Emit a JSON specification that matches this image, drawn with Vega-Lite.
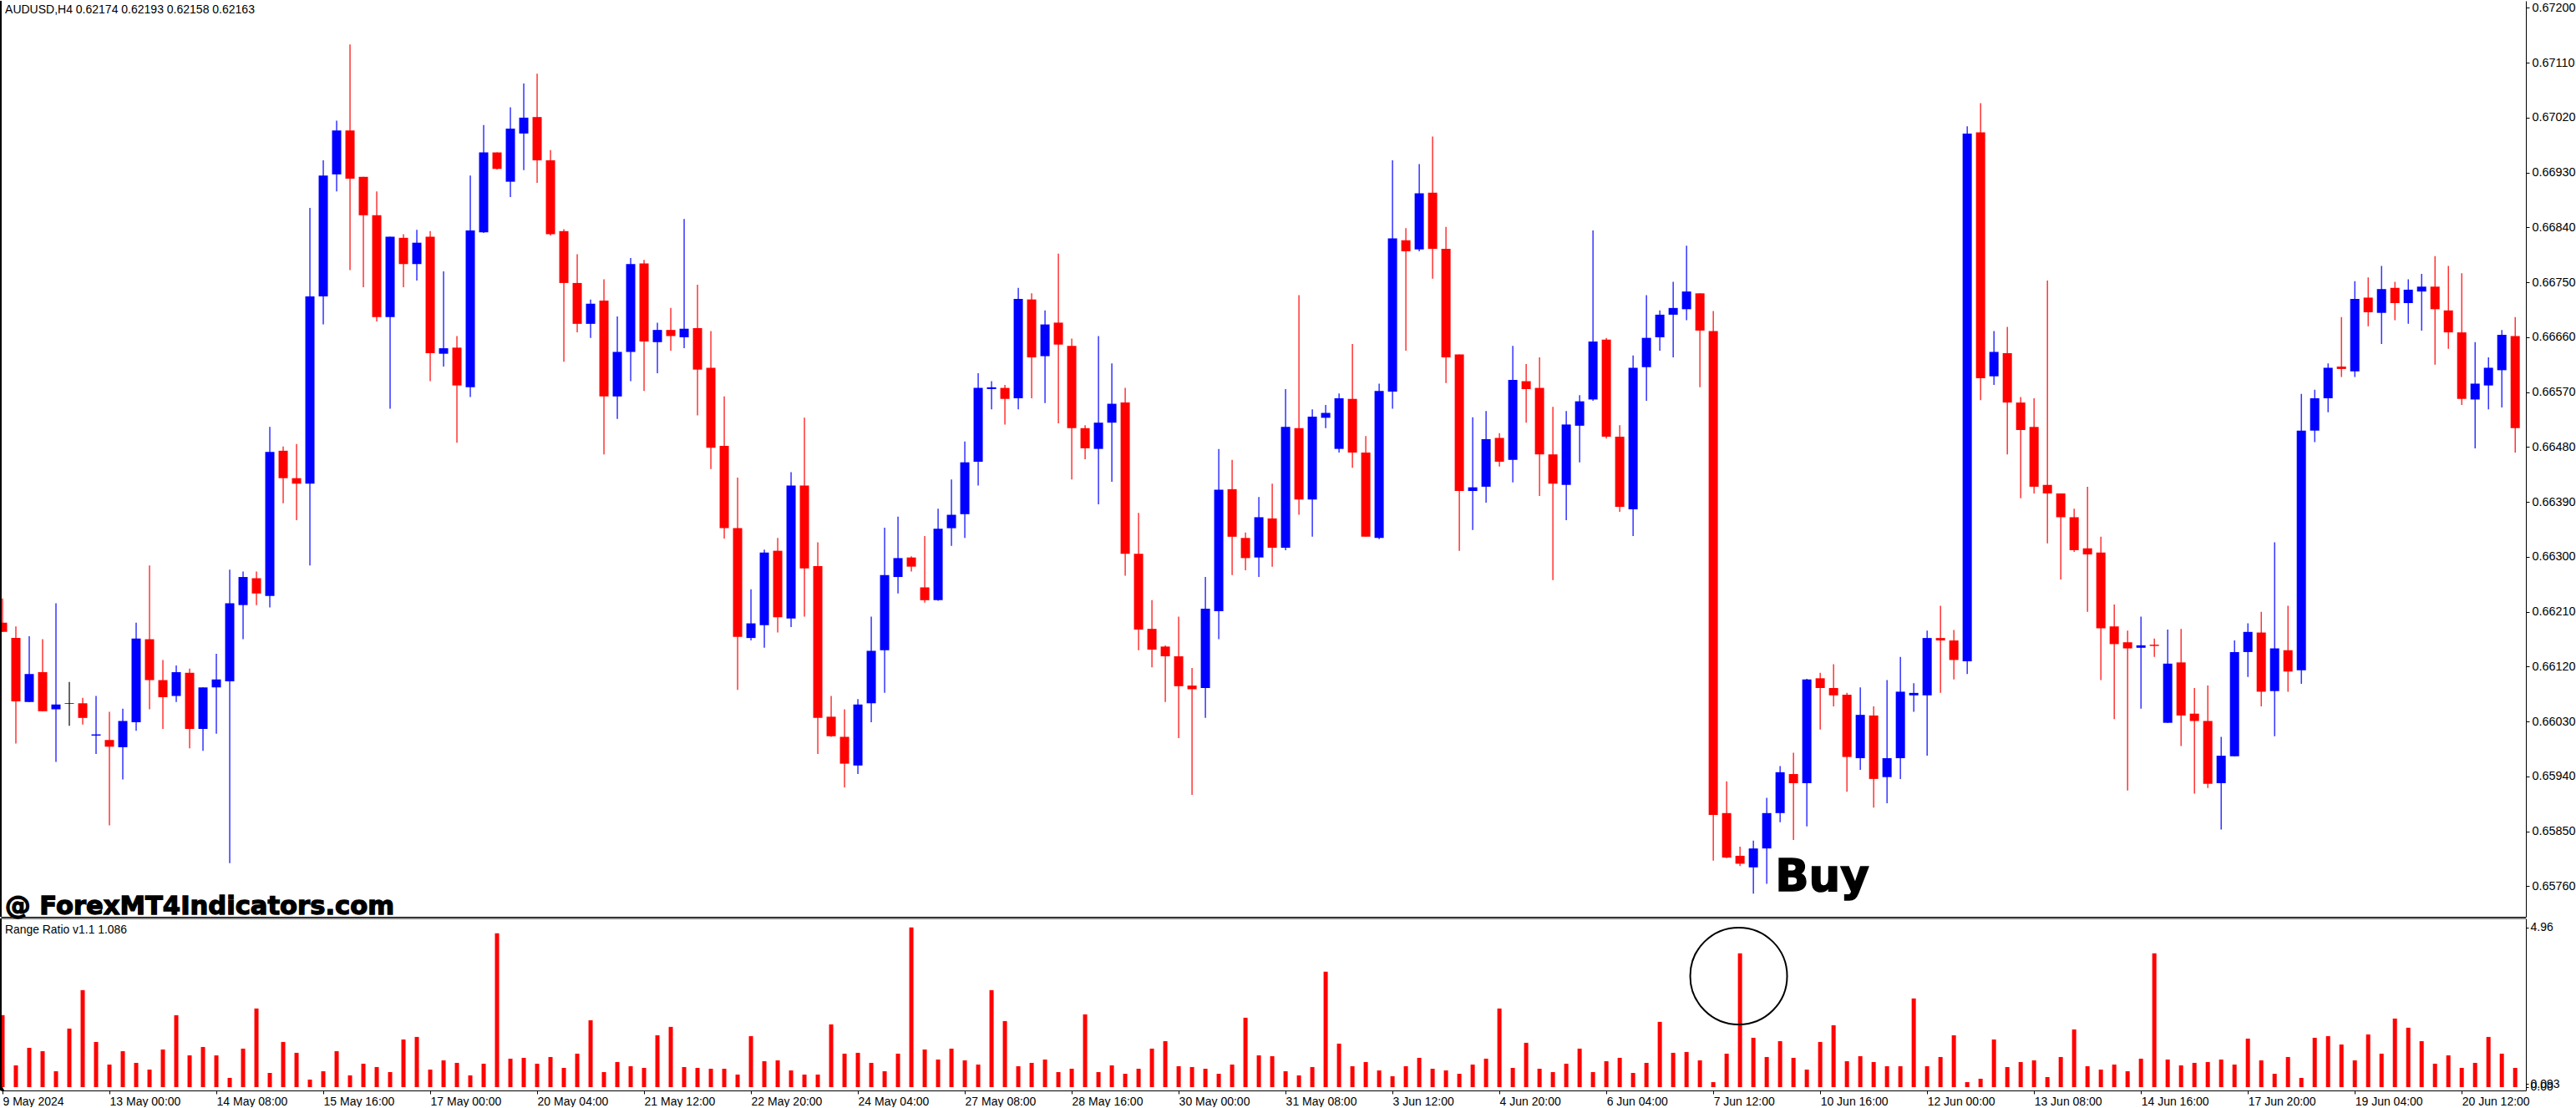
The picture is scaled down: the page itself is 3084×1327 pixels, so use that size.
{"$schema":"https://vega.github.io/schema/vega-lite/v6.json","padding":0,"spacing":2,"bounds":"flush","background":"white","config":{"view":{"stroke":null},"axis":{"grid":false,"title":null,"domainColor":"#000","tickColor":"#000","labelColor":"#000","labelFont":"Liberation Sans"}},
"datasets":{"bars":[
{"i":0,"d":"down","h":0.66232,"o":0.66192,"c":0.66177,"l":0.66177,"r":2.233},
{"i":1,"d":"down","h":0.66186,"o":0.66167,"c":0.66063,"l":0.65994,"r":0.675},
{"i":2,"d":"up","h":0.6617,"o":0.66062,"c":0.66108,"l":0.66062,"r":1.22},
{"i":3,"d":"down","h":0.66165,"o":0.66111,"c":0.66047,"l":0.66047,"r":1.117},
{"i":4,"d":"up","h":0.66224,"o":0.6605,"c":0.66058,"l":0.65964,"r":0.493},
{"i":5,"d":"flat","h":0.66095,"o":0.6606,"c":0.66059,"l":0.66023,"r":1.818},
{"i":6,"d":"down","h":0.66069,"o":0.6606,"c":0.66036,"l":0.66025,"r":3.012},
{"i":7,"d":"up","h":0.66072,"o":0.66007,"c":0.66009,"l":0.65977,"r":1.402},
{"i":8,"d":"down","h":0.66046,"o":0.66,"c":0.65989,"l":0.6586,"r":0.701},
{"i":9,"d":"up","h":0.66051,"o":0.65988,"c":0.66031,"l":0.65935,"r":1.117},
{"i":10,"d":"up","h":0.66192,"o":0.66029,"c":0.66166,"l":0.66015,"r":0.753},
{"i":11,"d":"down","h":0.66286,"o":0.66165,"c":0.66098,"l":0.6605,"r":0.545},
{"i":12,"d":"down","h":0.66131,"o":0.66098,"c":0.6607,"l":0.66018,"r":1.169},
{"i":13,"d":"up","h":0.66122,"o":0.66072,"c":0.66111,"l":0.66062,"r":2.233},
{"i":14,"d":"down","h":0.66117,"o":0.6611,"c":0.66018,"l":0.65986,"r":0.987},
{"i":15,"d":"up","h":0.66086,"o":0.66018,"c":0.66086,"l":0.65982,"r":1.246},
{"i":16,"d":"up","h":0.66141,"o":0.66086,"c":0.66099,"l":0.6601,"r":0.987},
{"i":17,"d":"up","h":0.66279,"o":0.66096,"c":0.66224,"l":0.65798,"r":0.286},
{"i":18,"d":"up","h":0.66276,"o":0.66221,"c":0.66267,"l":0.66165,"r":1.195},
{"i":19,"d":"down","h":0.66276,"o":0.66265,"c":0.6624,"l":0.66221,"r":2.441},
{"i":20,"d":"up","h":0.66513,"o":0.66236,"c":0.66472,"l":0.66217,"r":0.441},
{"i":21,"d":"down","h":0.66481,"o":0.66474,"c":0.66429,"l":0.66388,"r":1.402},
{"i":22,"d":"down","h":0.66485,"o":0.66429,"c":0.6642,"l":0.6636,"r":1.065},
{"i":23,"d":"up","h":0.66872,"o":0.6642,"c":0.66727,"l":0.66286,"r":0.234},
{"i":24,"d":"up","h":0.6695,"o":0.66727,"c":0.66925,"l":0.66681,"r":0.493},
{"i":25,"d":"up","h":0.67015,"o":0.66927,"c":0.66999,"l":0.66899,"r":1.117},
{"i":26,"d":"down","h":0.6714,"o":0.66999,"c":0.6692,"l":0.6677,"r":0.364},
{"i":27,"d":"down","h":0.66923,"o":0.66923,"c":0.6686,"l":0.66742,"r":0.727},
{"i":28,"d":"down","h":0.66899,"o":0.6686,"c":0.66693,"l":0.66686,"r":0.623},
{"i":29,"d":"up","h":0.66825,"o":0.66693,"c":0.66825,"l":0.66543,"r":0.467},
{"i":30,"d":"down","h":0.66829,"o":0.66823,"c":0.6678,"l":0.66742,"r":1.48},
{"i":31,"d":"up","h":0.66836,"o":0.6678,"c":0.66815,"l":0.66753,"r":1.558},
{"i":32,"d":"down","h":0.66834,"o":0.66825,"c":0.66634,"l":0.66588,"r":0.545},
{"i":33,"d":"up","h":0.66768,"o":0.66633,"c":0.66642,"l":0.66612,"r":0.831},
{"i":34,"d":"down","h":0.66662,"o":0.66643,"c":0.66581,"l":0.66487,"r":0.753},
{"i":35,"d":"up","h":0.66925,"o":0.66578,"c":0.66835,"l":0.66562,"r":0.364},
{"i":36,"d":"up","h":0.67008,"o":0.66832,"c":0.66963,"l":0.66831,"r":0.727},
{"i":37,"d":"down","h":0.66963,"o":0.66963,"c":0.66936,"l":0.66935,"r":4.778},
{"i":38,"d":"up","h":0.67037,"o":0.66915,"c":0.67002,"l":0.6689,"r":0.883},
{"i":39,"d":"up","h":0.67076,"o":0.66994,"c":0.6702,"l":0.66934,"r":0.909},
{"i":40,"d":"down","h":0.67092,"o":0.67021,"c":0.6695,"l":0.66913,"r":0.727},
{"i":41,"d":"down","h":0.66967,"o":0.6695,"c":0.66829,"l":0.66827,"r":0.935},
{"i":42,"d":"down","h":0.66837,"o":0.66834,"c":0.66749,"l":0.6662,"r":0.597},
{"i":43,"d":"down","h":0.66796,"o":0.66749,"c":0.66682,"l":0.66668,"r":1.039},
{"i":44,"d":"up","h":0.66722,"o":0.66682,"c":0.66715,"l":0.66659,"r":2.077},
{"i":45,"d":"down","h":0.66755,"o":0.6672,"c":0.66563,"l":0.66468,"r":0.467},
{"i":46,"d":"up","h":0.66694,"o":0.66563,"c":0.66636,"l":0.66526,"r":0.779},
{"i":47,"d":"up","h":0.6679,"o":0.66636,"c":0.6678,"l":0.66588,"r":0.649},
{"i":48,"d":"down","h":0.66787,"o":0.66781,"c":0.66653,"l":0.66572,"r":0.597},
{"i":49,"d":"up","h":0.66684,"o":0.66652,"c":0.66672,"l":0.66601,"r":1.61},
{"i":50,"d":"down","h":0.66708,"o":0.66672,"c":0.66662,"l":0.66638,"r":1.87},
{"i":51,"d":"up","h":0.66854,"o":0.6666,"c":0.66674,"l":0.66642,"r":0.623},
{"i":52,"d":"down","h":0.66746,"o":0.66675,"c":0.66607,"l":0.66532,"r":0.597},
{"i":53,"d":"down","h":0.6667,"o":0.6661,"c":0.66479,"l":0.66444,"r":0.571},
{"i":54,"d":"down","h":0.66563,"o":0.66482,"c":0.66347,"l":0.6633,"r":0.571},
{"i":55,"d":"down","h":0.6643,"o":0.66347,"c":0.66169,"l":0.66082,"r":0.39},
{"i":56,"d":"up","h":0.66247,"o":0.66167,"c":0.66191,"l":0.66163,"r":1.584},
{"i":57,"d":"up","h":0.66312,"o":0.66188,"c":0.66307,"l":0.66151,"r":0.805},
{"i":58,"d":"down","h":0.66331,"o":0.6631,"c":0.66201,"l":0.66176,"r":0.831},
{"i":59,"d":"up","h":0.66439,"o":0.66199,"c":0.66417,"l":0.66185,"r":0.519},
{"i":60,"d":"down","h":0.66528,"o":0.66417,"c":0.66281,"l":0.66202,"r":0.39},
{"i":61,"d":"down","h":0.66324,"o":0.66285,"c":0.66036,"l":0.65977,"r":0.39},
{"i":62,"d":"down","h":0.66072,"o":0.66038,"c":0.66006,"l":0.66005,"r":1.948},
{"i":63,"d":"down","h":0.6605,"o":0.66005,"c":0.65961,"l":0.65922,"r":1.039},
{"i":64,"d":"up","h":0.66067,"o":0.65958,"c":0.66058,"l":0.65944,"r":1.065},
{"i":65,"d":"up","h":0.66202,"o":0.6606,"c":0.66146,"l":0.66029,"r":0.753},
{"i":66,"d":"up","h":0.66348,"o":0.66147,"c":0.6627,"l":0.66077,"r":0.493},
{"i":67,"d":"up","h":0.66366,"o":0.66267,"c":0.66298,"l":0.6624,"r":1.039},
{"i":68,"d":"down","h":0.66301,"o":0.66299,"c":0.66284,"l":0.66276,"r":4.96},
{"i":69,"d":"down","h":0.66334,"o":0.6625,"c":0.66229,"l":0.66225,"r":1.169},
{"i":70,"d":"up","h":0.66379,"o":0.66229,"c":0.66346,"l":0.66228,"r":0.857},
{"i":71,"d":"up","h":0.66427,"o":0.66347,"c":0.66369,"l":0.66318,"r":1.195},
{"i":72,"d":"up","h":0.66489,"o":0.6637,"c":0.66455,"l":0.66331,"r":0.831},
{"i":73,"d":"up","h":0.66601,"o":0.66456,"c":0.66577,"l":0.66417,"r":0.701},
{"i":74,"d":"up","h":0.66588,"o":0.66575,"c":0.66578,"l":0.66542,"r":3.012},
{"i":75,"d":"down","h":0.66582,"o":0.66577,"c":0.66559,"l":0.66517,"r":2.051},
{"i":76,"d":"up","h":0.66741,"o":0.6656,"c":0.66723,"l":0.66542,"r":0.649},
{"i":77,"d":"down","h":0.66732,"o":0.66722,"c":0.66627,"l":0.6656,"r":0.753},
{"i":78,"d":"up","h":0.66704,"o":0.66629,"c":0.66681,"l":0.66552,"r":0.857},
{"i":79,"d":"down","h":0.66797,"o":0.66684,"c":0.66648,"l":0.66519,"r":0.467},
{"i":80,"d":"down","h":0.66658,"o":0.66646,"c":0.66511,"l":0.66427,"r":0.571},
{"i":81,"d":"down","h":0.66516,"o":0.66511,"c":0.66478,"l":0.6646,"r":2.259},
{"i":82,"d":"up","h":0.66662,"o":0.66477,"c":0.6652,"l":0.66386,"r":0.467},
{"i":83,"d":"up","h":0.66617,"o":0.6652,"c":0.66551,"l":0.66423,"r":0.675},
{"i":84,"d":"down","h":0.66577,"o":0.66553,"c":0.66305,"l":0.66269,"r":0.415},
{"i":85,"d":"down","h":0.66372,"o":0.66305,"c":0.66181,"l":0.66147,"r":0.571},
{"i":86,"d":"down","h":0.66229,"o":0.66182,"c":0.66148,"l":0.66119,"r":1.195},
{"i":87,"d":"down","h":0.66155,"o":0.66153,"c":0.66137,"l":0.66062,"r":1.428},
{"i":88,"d":"down","h":0.66202,"o":0.66137,"c":0.66088,"l":0.66003,"r":0.649},
{"i":89,"d":"down","h":0.66118,"o":0.66089,"c":0.66083,"l":0.6591,"r":0.623},
{"i":90,"d":"up","h":0.66267,"o":0.66085,"c":0.66215,"l":0.66036,"r":0.571},
{"i":91,"d":"up","h":0.66477,"o":0.66211,"c":0.6641,"l":0.66165,"r":0.415},
{"i":92,"d":"down","h":0.66459,"o":0.66411,"c":0.66333,"l":0.6627,"r":0.701},
{"i":93,"d":"down","h":0.6634,"o":0.66331,"c":0.66298,"l":0.66278,"r":2.155},
{"i":94,"d":"up","h":0.66398,"o":0.66299,"c":0.66365,"l":0.66267,"r":0.987},
{"i":95,"d":"down","h":0.6642,"o":0.66363,"c":0.66315,"l":0.66284,"r":0.961},
{"i":96,"d":"up","h":0.66575,"o":0.66315,"c":0.66513,"l":0.66311,"r":0.493},
{"i":97,"d":"down","h":0.66729,"o":0.66511,"c":0.66394,"l":0.66369,"r":0.364},
{"i":98,"d":"up","h":0.66542,"o":0.66394,"c":0.6653,"l":0.66333,"r":0.623},
{"i":99,"d":"up","h":0.66549,"o":0.66528,"c":0.66536,"l":0.66511,"r":3.584},
{"i":100,"d":"up","h":0.66568,"o":0.66477,"c":0.6656,"l":0.66471,"r":1.35},
{"i":101,"d":"down","h":0.66649,"o":0.66559,"c":0.66471,"l":0.66446,"r":0.649},
{"i":102,"d":"down","h":0.66498,"o":0.66471,"c":0.66333,"l":0.66333,"r":0.779},
{"i":103,"d":"up","h":0.66584,"o":0.66331,"c":0.66572,"l":0.66329,"r":0.519},
{"i":104,"d":"up","h":0.6695,"o":0.66571,"c":0.66822,"l":0.66543,"r":0.338},
{"i":105,"d":"down","h":0.66839,"o":0.66819,"c":0.66801,"l":0.66638,"r":0.649},
{"i":106,"d":"up","h":0.66944,"o":0.66804,"c":0.66896,"l":0.66801,"r":0.909},
{"i":107,"d":"down","h":0.66989,"o":0.66897,"c":0.66805,"l":0.66756,"r":0.571},
{"i":108,"d":"down","h":0.66841,"o":0.66805,"c":0.66627,"l":0.66585,"r":0.519},
{"i":109,"d":"down","h":0.66632,"o":0.66632,"c":0.66408,"l":0.6631,"r":0.415},
{"i":110,"d":"up","h":0.66529,"o":0.66408,"c":0.66414,"l":0.66344,"r":0.701},
{"i":111,"d":"up","h":0.66539,"o":0.66415,"c":0.66493,"l":0.66389,"r":0.883},
{"i":112,"d":"down","h":0.66503,"o":0.66495,"c":0.66456,"l":0.66448,"r":2.441},
{"i":113,"d":"up","h":0.66646,"o":0.66459,"c":0.6659,"l":0.66422,"r":0.597},
{"i":114,"d":"down","h":0.66616,"o":0.66588,"c":0.66575,"l":0.6652,"r":1.376},
{"i":115,"d":"down","h":0.66627,"o":0.66577,"c":0.66468,"l":0.664,"r":0.571},
{"i":116,"d":"down","h":0.66546,"o":0.66468,"c":0.6642,"l":0.66262,"r":0.467},
{"i":117,"d":"up","h":0.66539,"o":0.66418,"c":0.66517,"l":0.6636,"r":0.727},
{"i":118,"d":"up","h":0.66565,"o":0.66515,"c":0.66555,"l":0.66455,"r":1.195},
{"i":119,"d":"up","h":0.66835,"o":0.66558,"c":0.66653,"l":0.66556,"r":0.467},
{"i":120,"d":"down","h":0.66659,"o":0.66656,"c":0.66497,"l":0.66494,"r":0.805},
{"i":121,"d":"down","h":0.66516,"o":0.66497,"c":0.66382,"l":0.66374,"r":0.909},
{"i":122,"d":"up","h":0.6663,"o":0.66378,"c":0.6661,"l":0.66334,"r":0.441},
{"i":123,"d":"up","h":0.66729,"o":0.66611,"c":0.66659,"l":0.66556,"r":0.753},
{"i":124,"d":"up","h":0.66704,"o":0.6666,"c":0.66697,"l":0.66638,"r":2.026},
{"i":125,"d":"up","h":0.66751,"o":0.66697,"c":0.66708,"l":0.66627,"r":1.065},
{"i":126,"d":"up","h":0.6681,"o":0.66706,"c":0.66735,"l":0.66688,"r":1.091},
{"i":127,"d":"down","h":0.66732,"o":0.66732,"c":0.66671,"l":0.66578,"r":0.831},
{"i":128,"d":"down","h":0.66703,"o":0.6667,"c":0.65877,"l":0.65802,"r":0.156},
{"i":129,"d":"down","h":0.65932,"o":0.6588,"c":0.65807,"l":0.65806,"r":1.039},
{"i":130,"d":"down","h":0.65825,"o":0.6581,"c":0.65797,"l":0.65793,"r":4.155},
{"i":131,"d":"up","h":0.65835,"o":0.65791,"c":0.65822,"l":0.65748,"r":1.532},
{"i":132,"d":"up","h":0.65905,"o":0.65822,"c":0.6588,"l":0.65764,"r":0.935},
{"i":133,"d":"up","h":0.65957,"o":0.6588,"c":0.65947,"l":0.65865,"r":1.428},
{"i":134,"d":"down","h":0.65979,"o":0.65944,"c":0.65929,"l":0.65836,"r":0.909},
{"i":135,"d":"up","h":0.661,"o":0.65929,"c":0.66099,"l":0.65858,"r":0.545},
{"i":136,"d":"down","h":0.6611,"o":0.66101,"c":0.66085,"l":0.66017,"r":1.402},
{"i":137,"d":"down","h":0.66124,"o":0.66085,"c":0.66073,"l":0.66055,"r":1.922},
{"i":138,"d":"down","h":0.66077,"o":0.66074,"c":0.65972,"l":0.65915,"r":0.805},
{"i":139,"d":"up","h":0.66086,"o":0.6597,"c":0.66041,"l":0.65951,"r":0.961},
{"i":140,"d":"down","h":0.66055,"o":0.6604,"c":0.65936,"l":0.65889,"r":0.779},
{"i":141,"d":"up","h":0.66098,"o":0.65939,"c":0.6597,"l":0.65896,"r":0.649},
{"i":142,"d":"up","h":0.66136,"o":0.6597,"c":0.66079,"l":0.65936,"r":0.649},
{"i":143,"d":"up","h":0.66093,"o":0.66073,"c":0.66077,"l":0.66046,"r":2.753},
{"i":144,"d":"up","h":0.66179,"o":0.66073,"c":0.66167,"l":0.65974,"r":0.649},
{"i":145,"d":"down","h":0.6622,"o":0.66167,"c":0.66163,"l":0.66077,"r":0.935},
{"i":146,"d":"down","h":0.6618,"o":0.66163,"c":0.66131,"l":0.66099,"r":1.61},
{"i":147,"d":"up","h":0.67006,"o":0.66129,"c":0.66994,"l":0.66108,"r":0.156},
{"i":148,"d":"down","h":0.67044,"o":0.66996,"c":0.66593,"l":0.66557,"r":0.26},
{"i":149,"d":"up","h":0.6667,"o":0.66596,"c":0.66636,"l":0.66582,"r":1.48},
{"i":150,"d":"down","h":0.66677,"o":0.66634,"c":0.66553,"l":0.66468,"r":0.623},
{"i":151,"d":"down","h":0.66562,"o":0.66553,"c":0.66508,"l":0.66396,"r":0.779},
{"i":152,"d":"down","h":0.6656,"o":0.66513,"c":0.66415,"l":0.66404,"r":0.831},
{"i":153,"d":"down","h":0.66753,"o":0.66418,"c":0.66404,"l":0.66322,"r":0.312},
{"i":154,"d":"down","h":0.66404,"o":0.66404,"c":0.66365,"l":0.66263,"r":0.935},
{"i":155,"d":"down","h":0.66379,"o":0.66365,"c":0.66311,"l":0.66308,"r":1.792},
{"i":156,"d":"down","h":0.66415,"o":0.66314,"c":0.66304,"l":0.6621,"r":0.649},
{"i":157,"d":"down","h":0.66333,"o":0.66307,"c":0.66183,"l":0.66098,"r":0.545},
{"i":158,"d":"down","h":0.66222,"o":0.66186,"c":0.66157,"l":0.66034,"r":0.701},
{"i":159,"d":"down","h":0.66179,"o":0.6616,"c":0.6615,"l":0.65917,"r":0.493},
{"i":160,"d":"up","h":0.66202,"o":0.66151,"c":0.66155,"l":0.66051,"r":0.883},
{"i":161,"d":"down","h":0.66166,"o":0.66156,"c":0.66154,"l":0.66136,"r":4.155},
{"i":162,"d":"up","h":0.66181,"o":0.66028,"c":0.66125,"l":0.66028,"r":0.857},
{"i":163,"d":"down","h":0.66182,"o":0.66127,"c":0.6604,"l":0.6599,"r":0.675},
{"i":164,"d":"down","h":0.66085,"o":0.66043,"c":0.66031,"l":0.65912,"r":0.753},
{"i":165,"d":"down","h":0.66089,"o":0.66031,"c":0.65928,"l":0.65921,"r":0.779},
{"i":166,"d":"up","h":0.66005,"o":0.65929,"c":0.65974,"l":0.65853,"r":0.857},
{"i":167,"d":"up","h":0.66163,"o":0.65973,"c":0.66144,"l":0.65973,"r":0.701},
{"i":168,"d":"up","h":0.66191,"o":0.66144,"c":0.66177,"l":0.66103,"r":1.506},
{"i":169,"d":"down","h":0.6621,"o":0.66176,"c":0.66079,"l":0.66055,"r":0.831},
{"i":170,"d":"up","h":0.66324,"o":0.6608,"c":0.6615,"l":0.66006,"r":0.415},
{"i":171,"d":"down","h":0.6622,"o":0.66147,"c":0.66112,"l":0.66079,"r":0.935},
{"i":172,"d":"up","h":0.66567,"o":0.66114,"c":0.66507,"l":0.66092,"r":0.286},
{"i":173,"d":"up","h":0.66574,"o":0.66507,"c":0.6656,"l":0.66488,"r":1.532},
{"i":174,"d":"up","h":0.66617,"o":0.6656,"c":0.6661,"l":0.66537,"r":1.584},
{"i":175,"d":"down","h":0.66693,"o":0.66612,"c":0.66608,"l":0.66595,"r":1.324},
{"i":176,"d":"up","h":0.66752,"o":0.66604,"c":0.66723,"l":0.66595,"r":0.831},
{"i":177,"d":"down","h":0.66758,"o":0.66725,"c":0.66701,"l":0.66678,"r":1.636},
{"i":178,"d":"up","h":0.66777,"o":0.667,"c":0.66739,"l":0.66649,"r":1.039},
{"i":179,"d":"down","h":0.66751,"o":0.66741,"c":0.66716,"l":0.66688,"r":2.129},
{"i":180,"d":"up","h":0.66755,"o":0.66716,"c":0.66738,"l":0.66682,"r":1.844},
{"i":181,"d":"up","h":0.66764,"o":0.66735,"c":0.66743,"l":0.66671,"r":1.428},
{"i":182,"d":"down","h":0.66793,"o":0.66743,"c":0.66706,"l":0.66615,"r":0.727},
{"i":183,"d":"down","h":0.66777,"o":0.66704,"c":0.66668,"l":0.66641,"r":0.987},
{"i":184,"d":"down","h":0.66765,"o":0.66668,"c":0.66559,"l":0.66549,"r":0.597},
{"i":185,"d":"up","h":0.66652,"o":0.66558,"c":0.66584,"l":0.66478,"r":0.753},
{"i":186,"d":"up","h":0.66627,"o":0.66581,"c":0.6661,"l":0.66542,"r":1.558},
{"i":187,"d":"up","h":0.66672,"o":0.66606,"c":0.66664,"l":0.66545,"r":1.039},
{"i":188,"d":"down","h":0.66693,"o":0.66662,"c":0.66511,"l":0.66471,"r":0.597}
]},
"vconcat":[
{"width":3023,"height":1097,"data":{"name":"bars"},
"encoding":{"x":{"field":"i","type":"quantitative","scale":{"domain":[-0.125,188.8],"nice":false,"zero":false,"padding":0},"axis":{"labels":false,"ticks":false,"domain":true}}},
"layer":[
{"mark":{"type":"rule","strokeWidth":1.2,"clip":true},"encoding":{"y":{"field":"l","type":"quantitative","scale":{"domain":[0.6571,0.672115],"nice":false,"zero":false},"axis":{"orient":"right","values":[0.672,0.6711,0.6702,0.6693,0.6684,0.6675,0.6666,0.6657,0.6648,0.6639,0.663,0.6621,0.6612,0.6603,0.6594,0.6585,0.6576],"format":".5f","tickSize":4,"labelPadding":3,"labelFontSize":14.4,"labelOverlap":false,"labelBound":false,"labelFlush":false}},"y2":{"field":"h"},"color":{"field":"d","type":"nominal","scale":{"domain":["up","down","flat"],"range":["#0000ff","#ff0000","#000000"]},"legend":null}}},
{"mark":{"type":"bar","size":11,"clip":true},"encoding":{"y":{"field":"o","type":"quantitative"},"y2":{"field":"c"},"color":{"field":"d","type":"nominal","legend":null}}},
{"data":{"values":[{"i":-0.125}]},"mark":{"type":"rule","color":"#000","strokeWidth":2}},
{"data":{"values":[{"i":0.19,"p":0.67196,"t":"AUDUSD,H4  0.62174 0.62193 0.62158 0.62163"}]},"mark":{"type":"text","align":"left","baseline":"middle","font":"Liberation Sans","fontSize":14,"color":"#000"},"encoding":{"y":{"field":"p","type":"quantitative"},"text":{"field":"t"}}},
{"data":{"values":[{"i":0.19,"p":0.65714,"t":"@ ForexMT4Indicators.com"}]},"mark":{"type":"text","align":"left","baseline":"alphabetic","font":"DejaVu Sans","fontWeight":"bold","fontSize":30.6,"color":"#000","stroke":"#000","strokeWidth":1.3},"encoding":{"y":{"field":"p","type":"quantitative"},"text":{"field":"t"}}},
{"data":{"values":[{"i":132.63,"p":0.65752,"t":"Buy"}]},"mark":{"type":"text","align":"left","baseline":"alphabetic","font":"DejaVu Sans","fontWeight":"bold","fontSize":53,"color":"#000","stroke":"#000","strokeWidth":1.5},"encoding":{"y":{"field":"p","type":"quantitative"},"text":{"field":"t"}}}
],"resolve":{"scale":{"color":"shared"}}},
{"width":3023,"height":206,"data":{"name":"bars"},
"encoding":{"x":{"field":"i","type":"quantitative","scale":{"domain":[-0.125,188.8],"nice":false,"zero":false,"padding":0},"axis":{"values":[0,8,16,24,32,40,48,56,64,72,80,88,96,104,112,120,128,136,144,152,160,168,176,184],"labelExpr":"['9 May 2024','13 May 00:00','14 May 08:00','15 May 16:00','17 May 00:00','20 May 04:00','21 May 12:00','22 May 20:00','24 May 04:00','27 May 08:00','28 May 16:00','30 May 00:00','31 May 08:00','3 Jun 12:00','4 Jun 20:00','6 Jun 04:00','7 Jun 12:00','10 Jun 16:00','12 Jun 00:00','13 Jun 08:00','14 Jun 16:00','17 Jun 20:00','19 Jun 04:00','20 Jun 12:00'][datum.value/8]","labelAlign":"left","labelDx":-1,"labelFontSize":14,"tickSize":4,"labelPadding":2,"labelOverlap":false,"labelBound":false,"labelFlush":false}}},
"layer":[
{"mark":{"type":"bar","size":5,"color":"#ff0000","clip":true},"encoding":{"y":{"field":"r","type":"quantitative","scale":{"domain":[-0.104,5.237],"nice":false,"zero":false},"axis":{"orient":"right","values":[4.96,0.093,0],"labelExpr":"datum.value==4.96?'4.96':datum.value==0.093?'0.093':'0.00'","tickSize":3,"labelPadding":2,"labelFontSize":14,"labelOverlap":false,"labelBound":false,"labelFlush":false}},"y2":{"datum":0}}},
{"data":{"values":[{"i":-0.125}]},"mark":{"type":"rule","color":"#000","strokeWidth":2}},
{"data":{"values":[{"r":5.237}]},"mark":{"type":"rule","color":"#000","strokeWidth":1},"encoding":{"x":{"value":0},"x2":{"value":3023},"y":{"field":"r","type":"quantitative"}}},
{"data":{"values":[{"i":-0.06,"r":-0.05}]},"mark":{"type":"point","shape":"triangle-up","filled":true,"color":"#000","size":60,"opacity":1,"clip":true},"encoding":{"y":{"field":"r","type":"quantitative"}}},
{"data":{"values":[{"i":129.9,"r":3.45}]},"mark":{"type":"point","shape":"circle","filled":false,"color":"#000","strokeWidth":2,"size":13456,"opacity":1},"encoding":{"y":{"field":"r","type":"quantitative"}}},
{"data":{"values":[{"i":0.19,"r":4.88,"t":"Range Ratio v1.1 1.086"}]},"mark":{"type":"text","align":"left","baseline":"middle","font":"Liberation Sans","fontSize":13.9,"color":"#000"},"encoding":{"y":{"field":"r","type":"quantitative"},"text":{"field":"t"}}}
]}
]}
